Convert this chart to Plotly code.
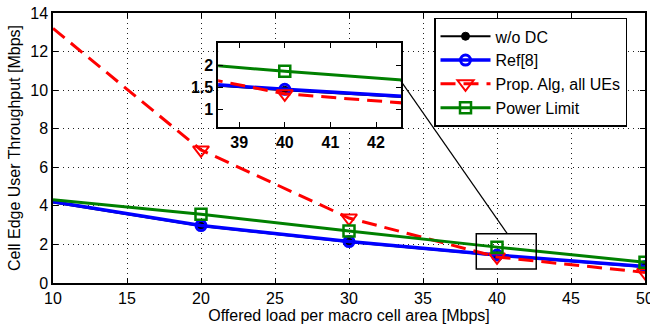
import plotly.graph_objects as go

x = [10, 20, 30, 40, 50]
wo_dc = [4.18, 2.95, 2.12, 1.43, 0.83]
ref8 = [4.22, 2.98, 2.15, 1.45, 0.85]
prop = [13.2, 6.9, 3.37, 1.35, 0.55]
power = [4.32, 3.56, 2.7, 1.86, 1.08]

x_ticks = [10, 15, 20, 25, 30, 35, 40, 45, 50]
y_ticks = [0, 2, 4, 6, 8, 10, 12, 14]
inset_x_ticks = [39, 40, 41, 42]
inset_y_ticks = [1, 1.5, 2]
inset_y_labels = ["1", "1.5", "2"]

series = [
    dict(name="w/o DC", y=wo_dc, color="black", width=2, dash="solid",
         symbol="circle", msize=8, mline=1),
    dict(name="Ref[8]", y=ref8, color="#0000ff", width=3.5, dash="solid",
         symbol="circle-open", msize=10, mline=3),
    dict(name="Prop. Alg, all UEs", y=prop, color="#ff0000", width=3, dash="15px,8px",
         symbol="triangle-down-open", msize=14, mline=2),
    dict(name="Power Limit", y=power, color="#008000", width=3, dash="solid",
         symbol="square-open", msize=11, mline=2.5),
]

FONT = "Liberation Sans, Arial, sans-serif"
fig = go.Figure()

for ax in [("x", "y"), ("x2", "y2")]:
    for s in series:
        fig.add_trace(go.Scatter(
            x=x, y=s["y"], mode="lines", xaxis=ax[0], yaxis=ax[1],
            line=dict(color=s["color"], width=s["width"], dash=s["dash"]),
            showlegend=False, hoverinfo="skip"))
        fig.add_trace(go.Scatter(
            x=x[1:], y=s["y"][1:], mode="markers", xaxis=ax[0], yaxis=ax[1],
            marker=dict(symbol=s["symbol"], size=s["msize"], color=s["color"],
                        line=dict(color=s["color"], width=s["mline"])),
            showlegend=False, hoverinfo="skip"))

for s in series:
    fig.add_trace(go.Scatter(
        x=[None], y=[None], mode="lines+markers", name=s["name"],
        line=dict(color=s["color"], width=s["width"], dash=s["dash"]),
        marker=dict(symbol=s["symbol"], size=s["msize"], color=s["color"],
                    line=dict(color=s["color"], width=s["mline"]))))

grid = dict(showgrid=True, gridcolor="#222", gridwidth=1, griddash="1px,4px")
axis_common = dict(showline=True, linecolor="black", linewidth=1.5, mirror="ticks",
                   ticks="inside", ticklen=5, tickcolor="black", zeroline=False,
                   ticklabeloverflow="allow", automargin=False,
                   tickfont=dict(family=FONT, size=16, color="black"))
bold_tick = dict(family=FONT, size=16, color="black", weight="bold")

fig.update_layout(
    width=650, height=330,
    margin=dict(l=53, r=5, t=13, b=47),
    paper_bgcolor="white", plot_bgcolor="white",
    font=dict(family=FONT, size=16, color="black"),
    xaxis=dict(range=[10, 50], tickvals=x_ticks, domain=[0, 1],
               title=dict(text="Offered load per macro cell area [Mbps]",
                          font=dict(size=16), standoff=2),
               **grid, **axis_common),
    yaxis=dict(range=[0, 14], tickvals=y_ticks, domain=[0, 1],
               title=dict(text="Cell Edge User Throughput [Mbps]", font=dict(size=16),
                          standoff=6),
               **grid, **axis_common),
    xaxis2=dict(range=[38.54, 42.55], tickvals=inset_x_ticks, domain=[0.279, 0.588],
                anchor="y2", showgrid=False, **{**axis_common, "tickfont": bold_tick}),
    yaxis2=dict(range=[0.6, 2.5], tickvals=inset_y_ticks, ticktext=inset_y_labels,
                domain=[0.578, 0.889], anchor="x2", showgrid=False,
                **{**axis_common, "tickfont": bold_tick}),
    legend=dict(x=0.6436, y=0.982, xanchor="left", yanchor="top",
                bgcolor="white", bordercolor="black", borderwidth=1.5,
                font=dict(family=FONT, size=16), itemwidth=50,
                tracegroupgap=0),
    shapes=[
        dict(type="rect", xref="x", yref="y", x0=38.6, x1=42.65, y0=0.72, y1=2.55,
             line=dict(color="black", width=1.5), layer="above"),
        dict(type="line", xref="x", yref="y", x0=33.51, y0=10.47, x1=40.68, y1=2.57,
             line=dict(color="black", width=1.2), layer="above"),
    ],
)

fig.write_html("out.html")
